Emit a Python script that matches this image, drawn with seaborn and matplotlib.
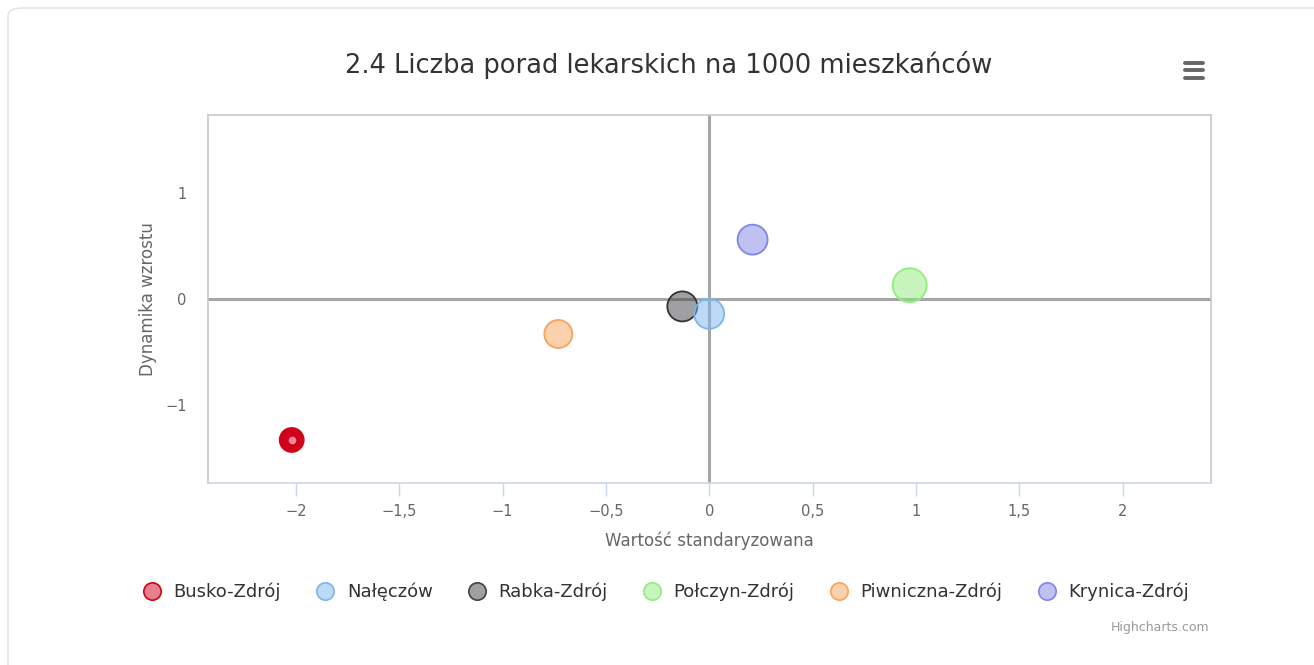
import numpy as np
import pandas as pd
import matplotlib.pyplot as plt
import seaborn as sns
from matplotlib.lines import Line2D
from matplotlib.patches import FancyBboxPatch
from matplotlib.ticker import FuncFormatter

sns.set_style("white")
plt.rcParams['font.family'] = ['DejaVu Sans']

# data
miasta = ['Busko-Zdrój', 'Nałęczów', 'Rabka-Zdrój', 'Połczyn-Zdrój', 'Piwniczna-Zdrój', 'Krynica-Zdrój']
wartosc_std = [-2.02, 0.00, -0.13, 0.97, -0.73, 0.21]
dynamika = [-1.33, -0.14, -0.07, 0.13, -0.33, 0.56]
wielkosc = [144, 225, 225, 289, 196, 225]
kolory = ['#d0021b', '#7cb5ec', '#434348', '#90ed7d', '#f7a35c', '#8085e9']

df = pd.DataFrame({'miasto': miasta, 'x': wartosc_std, 'y': dynamika, 'z': wielkosc})
# Nałęczów is drawn on top of Rabka-Zdrój in the original
draw_order = ['Busko-Zdrój', 'Rabka-Zdrój', 'Połczyn-Zdrój', 'Piwniczna-Zdrój', 'Krynica-Zdrój', 'Nałęczów']
df = df.set_index('miasto').loc[draw_order].reset_index()
palette = dict(zip(miasta, kolory))

fig = plt.figure(figsize=(13.14, 6.65), dpi=100)
ax = fig.add_axes([208 / 1314, 1 - 483 / 665, (1211 - 208) / 1314, (483 - 115) / 665])

# outer rounded frame of the chart container
fig.patches.append(FancyBboxPatch((8 / 1314, -0.05), 1.1, 1.05 - 8 / 665,
                                  boxstyle="round,pad=0,rounding_size=0.012",
                                  transform=fig.transFigure, facecolor='none',
                                  edgecolor='#e6e6e6', linewidth=1.2, zorder=0))

ax.axhline(0, color='#a6a6a6', lw=2.2, zorder=1)
ax.axvline(0, color='#a6a6a6', lw=2.2, zorder=1)

sns.scatterplot(data=df, x='x', y='y', hue='miasto', palette=palette, size='z',
                sizes=(298, 599), legend=False, ax=ax, zorder=3, linewidth=1.3)

coll = ax.collections[0]
fc = coll.get_facecolors().copy()
ec = fc.copy()
fc[:, 3] = 0.5
for i, m in enumerate(df['miasto']):
    if m == 'Busko-Zdrój':
        fc[i, 3] = 1.0
    if m == 'Rabka-Zdrój':
        ec[i, :3] = [0.2, 0.2, 0.2]
coll.set_facecolors(fc)
coll.set_edgecolors(ec)

# hover dot inside Busko-Zdrój
busko = df[df['miasto'] == 'Busko-Zdrój']
ax.scatter(busko['x'], busko['y'], s=30, color='#ec8a96', zorder=4, linewidths=0)

ax.set_xlim(-2.425, 2.428)
ax.set_ylim(-1.736, 1.736)
ax.set_xticks(np.arange(-2, 2.01, 0.5))
ax.set_yticks([-1, 0, 1])

fmt = FuncFormatter(lambda v, p: ('%g' % v).replace('.', ',').replace('-', '−'))
ax.xaxis.set_major_formatter(fmt)
ax.yaxis.set_major_formatter(fmt)

for s in ax.spines.values():
    s.set_color('#c8c8c8')
    s.set_linewidth(1.2)
ax.spines['bottom'].set_color('#ccd6eb')

ax.tick_params(axis='x', bottom=True, length=9, width=1, color='#ccd6eb',
               labelsize=10.5, labelcolor='#666666', pad=6)
ax.tick_params(axis='y', left=False, labelsize=10.5, labelcolor='#666666', pad=12)

ax.set_xlabel('Wartość standaryzowana', fontsize=12, color='#666666', labelpad=9)
ax.set_ylabel('Dynamika wzrostu', fontsize=12, color='#666666', labelpad=6)

fig.text(669 / 1314, 1 - 65 / 665, '2.4 Liczba porad lekarskich na 1000 mieszkańców',
         ha='center', va='center', fontsize=18.5, color='#333333')

# legend
handles = []
for c in kolory:
    rgba = list(plt.matplotlib.colors.to_rgba(c))
    rgba[3] = 0.5
    handles.append(Line2D([], [], marker='o', linestyle='none', markersize=12.5,
                          markerfacecolor=rgba, markeredgecolor=c, markeredgewidth=1.2))
leg = fig.legend(handles, miasta, loc='center', bbox_to_anchor=(666 / 1314, 1 - 592 / 665),
                 ncol=6, frameon=False, fontsize=13, handletextpad=0.7, columnspacing=1.95,
                 handlelength=1.0)
for t in leg.get_texts():
    t.set_color('#333333')

# export menu icon
for dy in (-7.5, 0, 7.5):
    yy = 1 - (70 + dy) / 665
    fig.add_artist(Line2D([1185 / 1314, 1203 / 1314], [yy, yy], transform=fig.transFigure,
                          color='#666666', lw=2.8, solid_capstyle='round'))

fig.text(1209 / 1314, 1 - 627 / 665, 'Highcharts.com', ha='right', va='center',
         fontsize=9, color='#999999')

fig.savefig('out.png', dpi=100)
